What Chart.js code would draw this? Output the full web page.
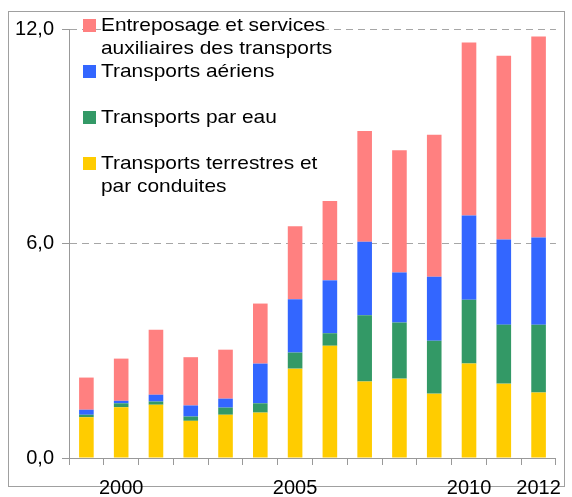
<!DOCTYPE html>
<html>
<head>
<meta charset="utf-8">
<script src="https://cdn.jsdelivr.net/npm/chart.js@4.4.1/dist/chart.umd.min.js"></script>
<style>
  html, body { margin: 0; padding: 0; background: #fff; }
  #wrap { position: relative; width: 572px; height: 497px; overflow: hidden; }
  #frame {
    position: absolute; left: 8px; top: 11px; width: 557px; height: 476px;
    border: 1.5px solid #a0a0a0; box-sizing: border-box;
  }
  canvas { position: absolute; left: 0; top: 0; }
  #legend {
    position: absolute; left: 83px; top: 13px;
    font-family: "Liberation Sans", Arial, sans-serif; font-size: 19px;
    line-height: 23px; color: #000;
  }
  .item { position: relative; height: 46px; }
  .box { position: absolute; left: 0; top: 6px; width: 13px; height: 13px; }
  .txt { margin-left: 18px; transform: scaleX(1.1); transform-origin: left top; white-space: nowrap; }
</style>
</head>
<body>
<div id="wrap">
  <div id="frame"></div>
  <canvas id="chart" width="572" height="497"></canvas>
  <div id="legend"></div>
</div>
<script>
// ── Data ─────────────────────────────────────────────────────────────────────

const years = ['1999', '2000', '2001', '2002', '2003', '2004', '2005',
               '2006', '2007', '2008', '2009', '2010', '2011', '2012'];
const shownYears = ['2000', '2005', '2010', '2012'];

const terrestres = [1.14, 1.42, 1.49, 1.04, 1.21, 1.27, 2.50, 3.14, 2.14, 2.22, 1.80, 2.64, 2.08, 1.83];
const parEau     = [0.07, 0.11, 0.09, 0.12, 0.20, 0.26, 0.45, 0.35, 1.85, 1.57, 1.48, 1.79, 1.65, 1.90];
const aeriens    = [0.14, 0.07, 0.19, 0.31, 0.25, 1.11, 1.49, 1.48, 2.06, 1.40, 1.79, 2.35, 2.38, 2.44];
const entreposage = [0.90, 1.18, 1.82, 1.35, 1.37, 1.68, 2.04, 2.22, 3.10, 3.42, 3.97, 4.84, 5.14, 5.62];

const yTicks = [0, 6, 12];

// ── Chart ────────────────────────────────────────────────────────────────────

const FONT = '"Liberation Sans", Arial, sans-serif';
const series = [
  { label: ['Transports terrestres et', 'par conduites'], data: terrestres, color: '#ffcc00' },
  { label: ['Transports par eau'], data: parEau, color: '#339966' },
  { label: ['Transports aériens'], data: aeriens, color: '#3366ff' },
  { label: ['Entreposage et services', 'auxiliaires des transports'], data: entreposage, color: '#ff8080' },
];

const ctx = document.getElementById('chart').getContext('2d');

new Chart(ctx, {
  type: 'bar',
  data: {
    labels: years,
    datasets: series.map(s => ({
      label: s.label.join(' '),
      data: s.data,
      backgroundColor: s.color,
      borderWidth: 0,
      categoryPercentage: 1,
      barPercentage: 0.42,
    }))
  },
  options: {
    responsive: false,
    animation: false,
    layout: { padding: { left: 0, right: 5, top: 29, bottom: 0 } },
    plugins: { legend: { display: false }, tooltip: { enabled: false } },
    scales: {
      x: {
        stacked: true,
        afterFit: s => { s.height = 39; },
        grid: { drawOnChartArea: false, tickLength: 7, tickColor: '#999', tickWidth: 1 },
        border: { color: '#999', width: 1 },
        ticks: {
          autoSkip: false, maxRotation: 0, padding: 11,
          color: '#000', font: { family: FONT, size: 20 },
          callback: function (v) {
            const y = this.getLabelForValue(v);
            return shownYears.includes(y) ? y : '';
          }
        }
      },
      y: {
        stacked: true,
        min: 0, max: 12,
        afterFit: s => { s.width = 69; },
        afterBuildTicks: s => { s.ticks = yTicks.map(v => ({ value: v })); },
        grid: {
          color: c => c.tick && c.tick.value === 0 ? 'rgba(0,0,0,0)' : '#a6a6a6',
          tickColor: '#999', tickLength: 7, lineWidth: 1
        },
        border: { color: '#999', width: 1, dash: [7, 5] },
        ticks: {
          padding: 8, color: '#000', font: { family: FONT, size: 20 },
          callback: v => v.toFixed(1).replace('.', ',')
        }
      }
    }
  }
});

// ── Legend ───────────────────────────────────────────────────────────────────

const legend = document.getElementById('legend');
series.slice().reverse().forEach(s => {
  const item = document.createElement('div');
  item.className = 'item';
  const box = document.createElement('span');
  box.className = 'box';
  box.style.background = s.color;
  item.appendChild(box);
  s.label.forEach(line => {
    const d = document.createElement('div');
    d.className = 'txt';
    d.textContent = line;
    item.appendChild(d);
  });
  legend.appendChild(item);
});
</script>
</body>
</html>
